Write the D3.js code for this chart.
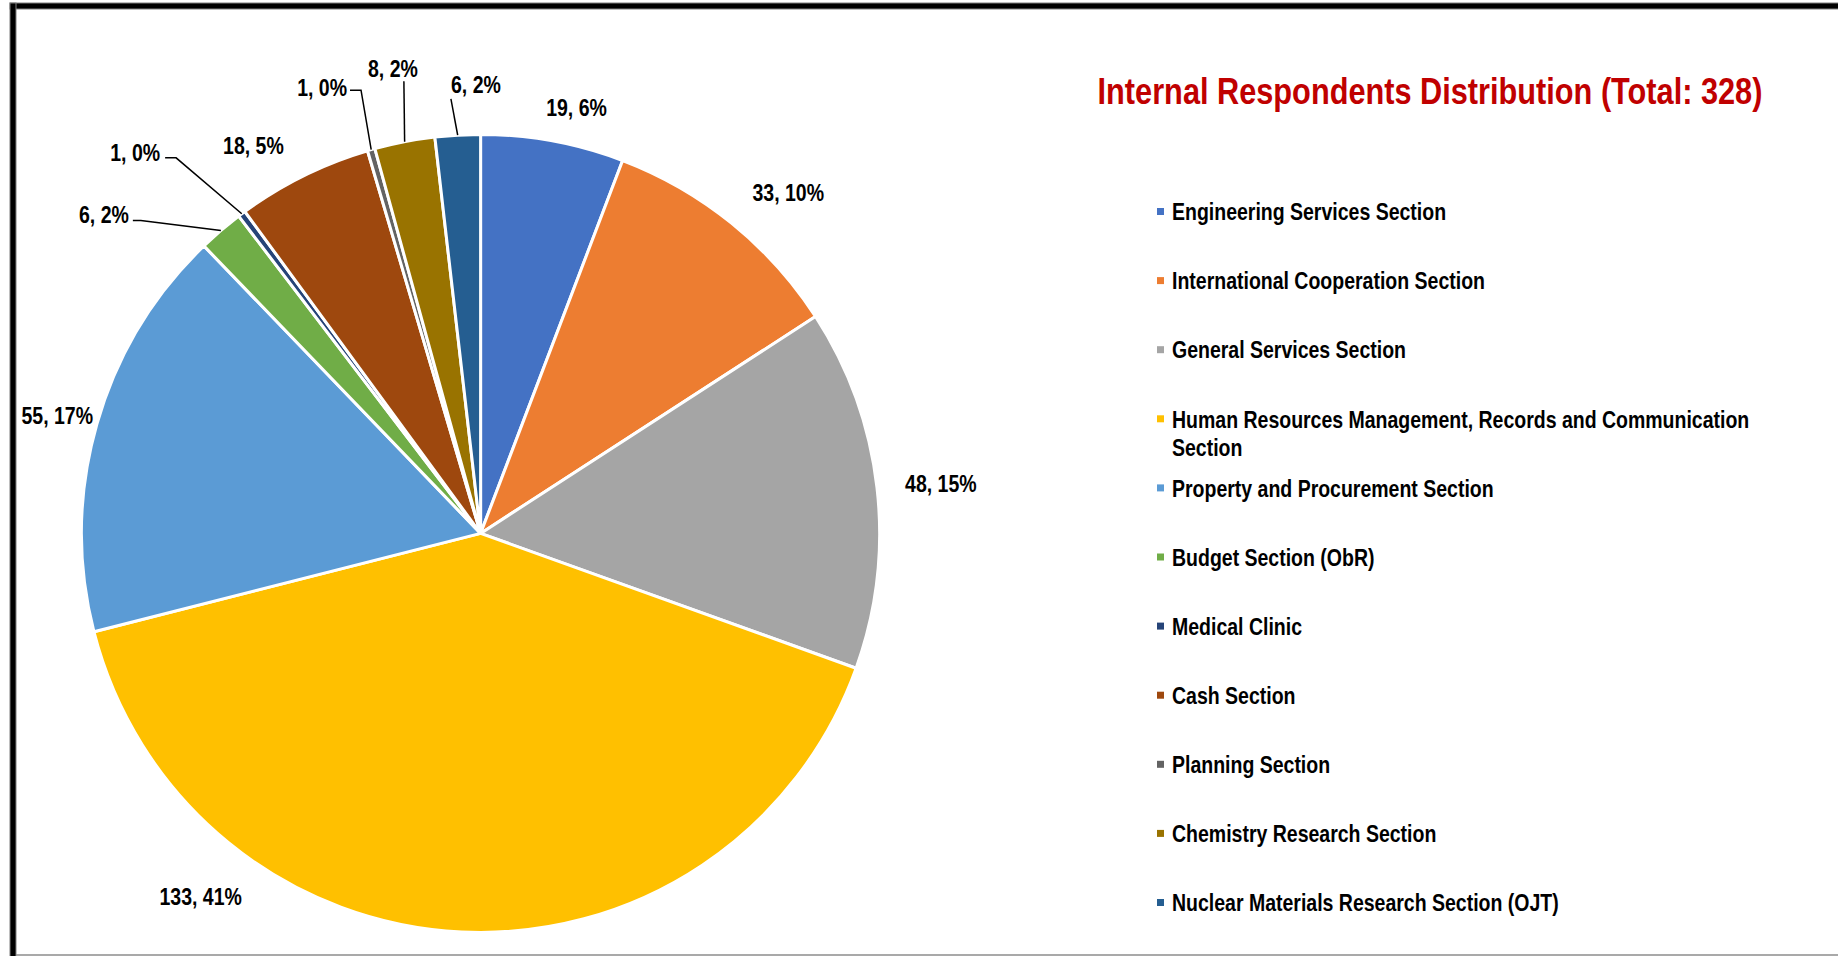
<html>
<head>
<meta charset="utf-8">
<title>Internal Respondents Distribution</title>
<style>
  body { margin: 0; background: #fff; overflow: hidden; }
  text { font-family: "Liberation Sans", Arial, sans-serif; font-weight: bold; }
</style>
<script src="https://d3js.org/d3.v7.min.js"></script>
</head>
<body>
<svg width="1838" height="956"></svg>
<script>
// data
var categories = ["Engineering Services Section", "International Cooperation Section", "General Services Section",
  "Human Resources Management, Records and Communication Section", "Property and Procurement Section",
  "Budget Section (ObR)", "Medical Clinic", "Cash Section", "Planning Section", "Chemistry Research Section",
  "Nuclear Materials Research Section (OJT)"];
var values = [19, 33, 48, 133, 55, 6, 1, 18, 1, 8, 6];
var colorList = ["#4472C4", "#ED7D31", "#A5A5A5", "#FFC000", "#5B9BD5", "#70AD47", "#264478", "#9E480E", "#636363", "#997300", "#255E91"];
var title = "Internal Respondents Distribution (Total: 328)";

// label layout (angle in degrees from top, radius factor, anchor, leader points relative to label)
var labelAngle = [12.7, 42.1, 83.9, 217.6, 285.5, 312.2, 319.9, 329.6, 343.3, 349.3, 359.4];
var labelRadius = [1.093, 1.15, 1.16, 1.15, 1.101, 1.19, 1.247, 1.125, 1.165, 1.184, 1.124];
var labelAnchor = ["middle", "middle", "middle", "middle", "middle", "end", "end", "middle", "end", "middle", "middle"];
var leaders = [null, null, null, null, null, [[12, 6], [4, 6]], [[16, 5], [5, 5]], null, [[14, 2], [3, 2]], [[11, 12]], [[-25, 14]]];

var narrow = 0.83; // fake Arial Narrow

var svg = d3.select("svg"),
    W = +svg.attr("width"), H = +svg.attr("height");

// frame
svg.append("rect").attr("x", 10).attr("y", 3).attr("width", W).attr("height", 6)
  .attr("fill", "#000").attr("stroke", "#7f7f7f").attr("stroke-width", 1);
svg.append("rect").attr("x", 10).attr("y", 3).attr("width", 6).attr("height", H + 10)
  .attr("fill", "#000").attr("stroke", "#7f7f7f").attr("stroke-width", 1);
svg.append("line").attr("x1", 16).attr("x2", W).attr("y1", 955).attr("y2", 955)
  .attr("stroke", "#8c8c8c").attr("stroke-width", 1.5);

var total = d3.sum(values);
var cx = 480.6, cy = 533.4, r = 399;
var color = d3.scaleOrdinal().domain(categories).range(colorList);

var pie = d3.pie().sort(null).value(d => d);
var arcs = pie(values);
var arc = d3.arc().innerRadius(0).outerRadius(r);

var g = svg.append("g").attr("transform", `translate(${cx},${cy})`);

g.selectAll("path.slice")
  .data(arcs)
  .enter().append("path")
  .attr("class", "slice")
  .attr("d", arc)
  .attr("fill", (d, i) => color(categories[i]))
  .attr("stroke", "#fff")
  .attr("stroke-width", 3)
  .attr("stroke-linejoin", "round");

// labels
var labels = g.append("g").attr("class", "labels");
arcs.forEach(function(d, i) {
  var p = d3.pointRadial(labelAngle[i] * Math.PI / 180, r * labelRadius[i]);
  if (leaders[i]) {
    var mid = (d.startAngle + d.endAngle) / 2;
    var pts = [d3.pointRadial(mid, r)].concat(leaders[i].map(o => [p[0] + o[0], p[1] + o[1]]));
    labels.append("path")
      .attr("d", d3.line()(pts))
      .attr("fill", "none")
      .attr("stroke", "#000")
      .attr("stroke-width", 1.5);
  }
  labels.append("text")
    .attr("transform", `translate(${p[0]},${p[1]}) scale(${narrow},1)`)
    .attr("dy", "0.35em")
    .attr("text-anchor", labelAnchor[i])
    .style("font-size", "23.5px")
    .attr("fill", "#000")
    .text(values[i] + ", " + Math.round(values[i] / total * 100) + "%");
});

// title
svg.append("text")
  .attr("transform", `translate(1430,91) scale(${narrow},1)`)
  .attr("dy", "0.35em")
  .attr("text-anchor", "middle")
  .style("font-size", "37px")
  .attr("fill", "#C00000")
  .text(title);

// legend
var legend = svg.append("g").attr("class", "legend")
  .selectAll("g")
  .data(categories)
  .enter().append("g")
  .attr("transform", (d, i) => `translate(1157,${212 + i * 69.1})`);

legend.append("rect")
  .attr("x", 0).attr("y", -4)
  .attr("width", 7).attr("height", 7)
  .attr("fill", d => color(d));

legend.append("text")
  .attr("transform", `translate(15,0) scale(${narrow},1)`)
  .attr("dy", "0.35em")
  .style("font-size", "23.5px")
  .attr("fill", "#000")
  .each(function(d) {
    var t = d3.select(this);
    var split = d.indexOf("Communication ");
    if (split > 0) {
      t.append("tspan").attr("x", 0).text(d.slice(0, split + 13));
      t.append("tspan").attr("x", 0).attr("dy", "1.2em").text(d.slice(split + 14));
    } else {
      t.text(d);
    }
  });
</script>
</body>
</html>
